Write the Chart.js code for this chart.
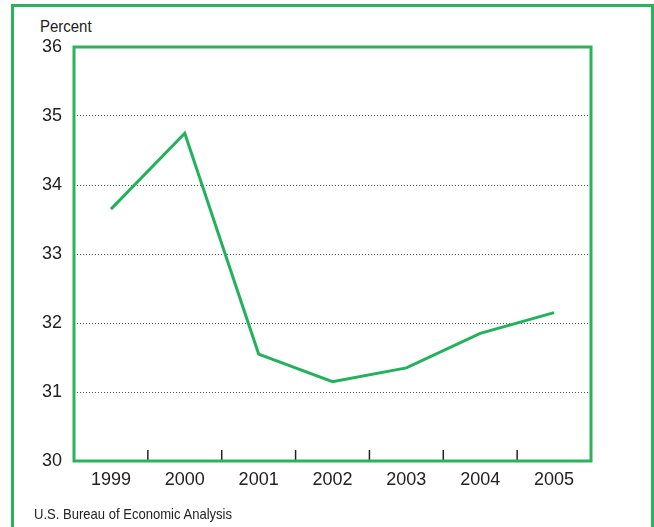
<!DOCTYPE html>
<html>
<head>
<meta charset="utf-8">
<script src="https://cdn.jsdelivr.net/npm/chart.js@4/dist/chart.umd.min.js"></script>
<style>
  body { margin: 0; background: #fff; }
  #wrap { position: relative; width: 654px; height: 527px; overflow: hidden; }
  #frame { position: absolute; left: 11px; top: 4px; width: 643px; height: 600px;
           box-sizing: border-box; border: 3px solid #2bb35c; }
  #unit { position: absolute; left: 40px; top: 18px; font: 17px/17px "Liberation Sans", Arial, sans-serif;
          color: #222; transform: scaleX(0.88); transform-origin: left top; white-space: nowrap; }
  #source { position: absolute; left: 34px; top: 506px; font: 15px/15px "Liberation Sans", Arial, sans-serif;
            color: #222; transform: scaleX(0.87); transform-origin: left top; white-space: nowrap; }
  canvas { position: absolute; left: 0; top: 0; }
</style>
</head>
<body>
<div id="wrap">
  <div id="frame"></div>
  <div id="unit">Percent</div>
  <canvas id="myChart" width="654" height="527"></canvas>
  <div id="source">U.S. Bureau of Economic Analysis</div>
</div>
<script>
var years = ['1999', '2000', '2001', '2002', '2003', '2004', '2005'];
var percentValues = [33.65, 34.75, 31.55, 31.15, 31.35, 31.85, 32.15];
var yMin = 30;
var yMax = 36;

var green = '#22b35a';

// green box round the plot area and small ticks between years
const boxPlugin = {
    id: 'boxPlugin',
    afterDraw(chart) {
        const ctx = chart.ctx;
        const a = chart.chartArea;
        const xs = chart.scales.x;
        ctx.save();
        ctx.strokeStyle = '#222';
        ctx.lineWidth = 1.5;
        for (var i = 0; i < years.length - 1; i++) {
            var px = (xs.getPixelForTick(i) + xs.getPixelForTick(i + 1)) / 2;
            ctx.beginPath();
            ctx.moveTo(px, a.bottom);
            ctx.lineTo(px, a.bottom - 11);
            ctx.stroke();
        }
        ctx.strokeStyle = '#2bb35c';
        ctx.lineWidth = 3;
        ctx.strokeRect(a.left, a.top, a.right - a.left, a.bottom - a.top);
        ctx.restore();
    }
};

const ctxPercent = document.getElementById('myChart').getContext('2d');
const myChart = new Chart(ctxPercent, {
    type: 'line',
    data: {
        labels: years,
        datasets: [{
            data: percentValues,
            borderColor: green,
            borderWidth: 3,
            pointRadius: 0,
            tension: 0,
            fill: false
        }]
    },
    options: {
        responsive: false,
        animation: false,
        layout: { padding: { top: 47, right: 63, left: 0, bottom: 0 } },
        plugins: { legend: { display: false }, tooltip: { enabled: false } },
        scales: {
            x: {
                offset: true,
                grid: { display: false, drawTicks: false },
                border: { display: false },
                ticks: {
                    padding: 8,
                    color: '#222',
                    font: { family: '"Liberation Sans", Arial, sans-serif', size: 18 }
                },
                afterFit: function (scale) { scale.height = 66; }
            },
            y: {
                min: yMin,
                max: yMax,
                grid: {
                    drawTicks: false,
                    color: function (c) {
                        return (c.tick.value === yMin || c.tick.value === yMax) ? 'rgba(0,0,0,0)' : '#555';
                    },
                    lineWidth: 1
                },
                border: { display: false, dash: [1, 2] },
                ticks: {
                    stepSize: 1,
                    padding: 12,
                    color: '#222',
                    font: { family: '"Liberation Sans", Arial, sans-serif', size: 18 }
                },
                afterFit: function (scale) { scale.width = 74; }
            }
        }
    },
    plugins: [boxPlugin]
});
</script>
</body>
</html>
